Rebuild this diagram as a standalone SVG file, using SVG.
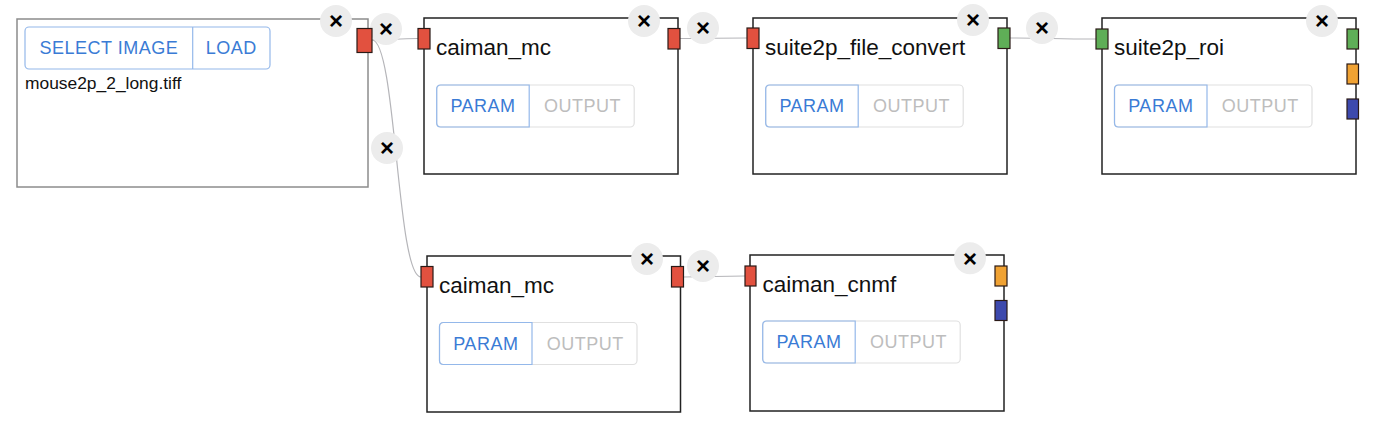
<svg xmlns="http://www.w3.org/2000/svg" width="1382" height="426" viewBox="0 0 1382 426">
<style>
  text { font-family: "Liberation Sans", Arial, sans-serif; }
  .box { fill: #fff; stroke: #222; stroke-width: 1.5; }
  .imgbox { fill: #fff; stroke: #8c8c8c; stroke-width: 1.5; }
  .title { font-size: 22.5px; fill: #111; }
  .fname { font-size: 17.4px; fill: #111; }
  .grp { fill: #fff; stroke: #e0e0e0; stroke-width: 1.2; }
  .sel { fill: none; stroke: #94b8ea; stroke-width: 1.2; }
  .btn { font-size: 18px; letter-spacing: 0.5px; text-anchor: middle; }
  .on { fill: #3a7bd5; }
  .off { fill: #bdbdbd; }
  .close circle { fill: #ececec; }
  .close text { font-size: 24px; font-weight: bold; fill: #000; text-anchor: middle; }
  .port { stroke: #2a1a16; stroke-width: 1.2; }
  .red { fill: #e2513f; }
  .green { fill: #5fae57; }
  .orange { fill: #f0a233; }
  .blue { fill: #3d49ad; }
  .edge { fill: none; stroke: #b5b5b9; stroke-width: 1.2; }
</style>
<defs>
  <g id="closebtn" class="close">
    <circle cx="0" cy="0" r="16"/>
    <text x="0" y="8.3">×</text>
  </g>
  <g id="toggle">
    <rect class="grp" x="0" y="0" width="197.5" height="42" rx="4"/>
    <path class="sel" d="M92.5,0 H4 Q0,0 0,4 V38 Q0,42 4,42 H92.5 Z"/>
  </g>
</defs>

<g id="connectors">
  <path class="edge" d="M372,40 C395,40 395,38.5 418,38.5"/>
  <path class="edge" d="M372,40 C396.5,40 396.5,277 421,277"/>
  <path class="edge" d="M680,38.5 C713,38.5 713,38 747,38"/>
  <path class="edge" d="M1009,38 C1052,38 1052,39 1096,39"/>
  <path class="edge" d="M683.5,277 C714,277 714,276 745,276"/>
  <use href="#closebtn" x="386" y="29"/>
  <use href="#closebtn" x="387" y="148"/>
  <use href="#closebtn" x="703" y="28"/>
  <use href="#closebtn" x="1042" y="28"/>
  <use href="#closebtn" x="703" y="266"/>
</g>

<g id="node-image" transform="translate(17,19)">
  <rect class="imgbox" x="0" y="0" width="351" height="168"/>
  <rect class="grp" x="8" y="8" width="245" height="42" rx="4" style="stroke:#94b8ea"/>
  <line x1="175.7" y1="8" x2="175.7" y2="50" stroke="#94b8ea" stroke-width="1.2"/>
  <text class="btn on" x="91.8" y="35">SELECT IMAGE</text>
  <text class="btn on" x="214.3" y="35">LOAD</text>
  <text class="fname" x="8" y="69.5">mouse2p_2_long.tiff</text>
  <use href="#closebtn" x="319" y="2"/>
  <rect class="port red" x="340" y="9.5" width="15" height="24"/>
</g>

<g id="node-caiman_mc-1" transform="translate(424,18)">
  <rect class="box" x="0" y="0" width="254" height="156"/>
  <text class="title" x="12" y="36.5">caiman_mc</text>
  <use href="#toggle" x="12.7" y="67"/>
  <text class="btn on" x="59" y="94">PARAM</text>
  <text class="btn off" x="158.5" y="94">OUTPUT</text>
  <use href="#closebtn" x="220" y="3"/>
  <rect class="port red" x="-6" y="10.5" width="12" height="20.5"/>
  <rect class="port red" x="244" y="10.5" width="12" height="20.5"/>
</g>

<g id="node-suite2p_file_convert" transform="translate(753,18)">
  <rect class="box" x="0" y="0" width="254" height="156"/>
  <text class="title" x="12" y="36.5">suite2p_file_convert</text>
  <use href="#toggle" x="12.7" y="67"/>
  <text class="btn on" x="59" y="94">PARAM</text>
  <text class="btn off" x="158.5" y="94">OUTPUT</text>
  <use href="#closebtn" x="220" y="2"/>
  <rect class="port red" x="-6" y="10" width="12" height="20.5"/>
  <rect class="port green" x="245" y="10" width="12" height="20.5"/>
</g>

<g id="node-suite2p_roi" transform="translate(1102,18)">
  <rect class="box" x="0" y="0" width="254" height="156"/>
  <text class="title" x="12" y="37">suite2p_roi</text>
  <use href="#toggle" x="12.5" y="67"/>
  <text class="btn on" x="58.8" y="94">PARAM</text>
  <text class="btn off" x="158.3" y="94">OUTPUT</text>
  <use href="#closebtn" x="220" y="3"/>
  <rect class="port green" x="-6" y="11" width="12" height="20"/>
  <rect class="port green" x="245" y="11" width="11.5" height="20"/>
  <rect class="port orange" x="245" y="46" width="11.5" height="20"/>
  <rect class="port blue" x="245" y="81" width="11.5" height="20"/>
</g>

<g id="node-caiman_mc-2" transform="translate(427,256)">
  <rect class="box" x="0" y="0" width="253.5" height="156"/>
  <text class="title" x="12" y="37">caiman_mc</text>
  <use href="#toggle" x="12.5" y="66.5"/>
  <text class="btn on" x="58.8" y="93.5">PARAM</text>
  <text class="btn off" x="158.3" y="93.5">OUTPUT</text>
  <use href="#closebtn" x="220" y="3"/>
  <rect class="port red" x="-6" y="10.5" width="12" height="20.5"/>
  <rect class="port red" x="244.5" y="10.5" width="12" height="20.5"/>
</g>

<g id="node-caiman_cnmf" transform="translate(750,255)">
  <rect class="box" x="0" y="0" width="254" height="156"/>
  <text class="title" x="12.5" y="37">caiman_cnmf</text>
  <use href="#toggle" x="12.7" y="66"/>
  <text class="btn on" x="59" y="93">PARAM</text>
  <text class="btn off" x="158.5" y="93">OUTPUT</text>
  <use href="#closebtn" x="220" y="3.3"/>
  <rect class="port red" x="-5" y="11" width="11" height="20"/>
  <rect class="port orange" x="245" y="11" width="12" height="20"/>
  <rect class="port blue" x="245" y="45.5" width="12" height="20"/>
</g>
</svg>
